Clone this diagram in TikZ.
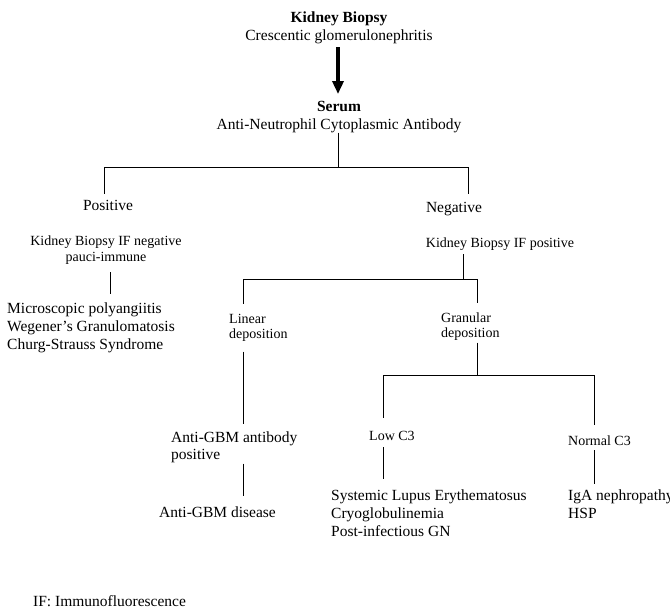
\documentclass[tikz,border=0pt]{standalone}
\usepackage{fontspec}
\setmainfont{Liberation Serif}
\usetikzlibrary{arrows.meta}
\begin{document}
\begin{tikzpicture}[x=1pt,y=-1pt,
  big/.style={font=\fontsize{15.5}{18}\selectfont, inner sep=0pt, align=left},
  bigc/.style={font=\fontsize{15.5}{18}\selectfont, inner sep=0pt, align=center},
  small/.style={font=\fontsize{14}{16}\selectfont, inner sep=0pt, align=left},
  smallc/.style={font=\fontsize{14}{16}\selectfont, inner sep=0pt, align=center},
  conn/.style={line width=0.9pt, draw=black},
  bigarrow/.style={line width=4pt, -{Triangle[width=11pt,length=13pt]}}]
\useasboundingbox (0,0) rectangle (670,608);

% guide x positions and junctions
\coordinate (xA) at (338,0);
\coordinate (xQ) at (110,0);
\coordinate (xL) at (243,0);
\coordinate (xG) at (477,0);
\coordinate (xLo) at (383,0);
\coordinate (xNo) at (594,0);
\coordinate (j1) at (338,167);
\coordinate (j2) at (463,279);
\coordinate (j3) at (477,375);

% nodes (base anchor = baseline of the last line)
\node[bigc, anchor=base] (top) at (339,40) {\textbf{Kidney Biopsy}\\Crescentic glomerulonephritis};
\node[bigc, anchor=base] (serum) at (339,129) {\textbf{Serum}\\Anti-Neutrophil Cytoplasmic Antibody};
\node[big, anchor=base] (pos) at (108,210) {Positive};
\node[big, anchor=base] (neg) at (454,212) {Negative};
\node[smallc, anchor=base] (kbneg) at (106,261) {Kidney Biopsy IF negative\\pauci-immune};
\node[big, anchor=base west] (mpa) at (7,349) {Microscopic polyangiitis\\Wegener’s Granulomatosis\\Churg-Strauss Syndrome};
\node[small, anchor=base] (kbpos) at (500,247) {Kidney Biopsy IF positive};
\node[small, anchor=base west, font=\fontsize{14}{15.5}\selectfont] (lin) at (229,338.5) {Linear\\deposition};
\node[small, anchor=base west, font=\fontsize{14}{15.5}\selectfont] (gran) at (441,337.5) {Granular\\deposition};
\node[big, anchor=base west, font=\fontsize{15.5}{17}\selectfont] (agbm) at (171,459) {Anti-GBM antibody\\positive};
\node[big, anchor=base west] (agd) at (159,517) {Anti-GBM disease};
\node[small, anchor=base west] (low) at (369,440) {Low C3};
\node[small, anchor=base west] (norm) at (568,445) {Normal C3};
\node[big, anchor=base west] (sle) at (331,536) {Systemic Lupus Erythematosus\\Cryoglobulinemia\\Post-infectious GN};
\node[big, anchor=base west] (iga) at (568,518) {IgA nephropathy\\HSP};
\node[big, anchor=base west] (note) at (33,606) {IF: Immunofluorescence};

% connectors
\draw[bigarrow] ([yshift=-3.5pt]top.south -| xA) -- ([yshift=6.5pt]serum.north -| xA);
\draw[conn] (serum.south -| xA) -- (j1);
\draw[conn] (j1) -| ([xshift=-4pt,yshift=6pt]pos.north);
\draw[conn] (j1) -| ([xshift=14pt,yshift=8pt]neg.north);
\draw[conn] ([yshift=-8pt]kbneg.south -| xQ) -- ([yshift=8pt]mpa.north -| xQ);
\draw[conn] ([yshift=-4pt]kbpos.south -| j2) -- (j2);
\draw[conn] (j2) -| ([yshift=10pt]lin.north -| xL);
\draw[conn] (j2) -| ([yshift=9.5pt]gran.north -| xG);
\draw[conn] ([yshift=-10pt]lin.south -| xL) -- ([yshift=7.5pt]agbm.north -| xL);
\draw[conn] ([yshift=-2pt]gran.south -| xG) -- (j3);
\draw[conn] (j3) -| ([yshift=12.5pt]low.north -| xLo);
\draw[conn] (j3) -| ([yshift=10.5pt]norm.north -| xNo);
\draw[conn] ([yshift=-1pt]agbm.south -| xL) -- ([yshift=10.5pt]agd.north -| xL);
\draw[conn] ([yshift=-7pt]low.south -| xLo) -- ([yshift=10.5pt]sle.north -| xLo);
\draw[conn] ([yshift=-5pt]norm.south -| xNo) -- ([yshift=5.5pt]iga.north -| xNo);
\end{tikzpicture}
\end{document}
